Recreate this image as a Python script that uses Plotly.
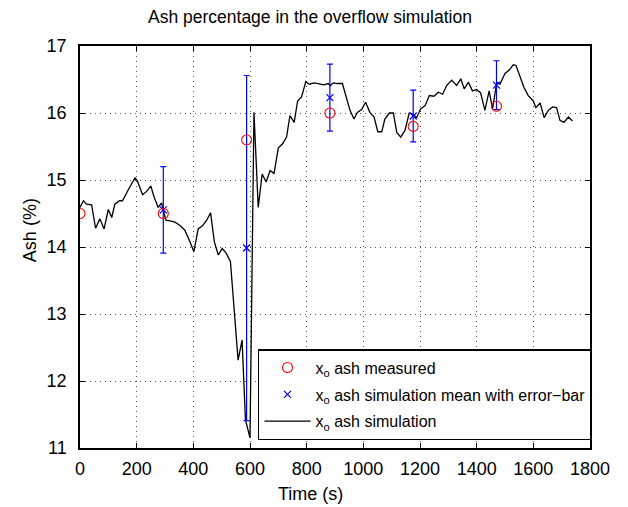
import plotly.graph_objects as go

# Simulated ash percentage in the overflow over time
time_s = [0, 12, 23, 41, 55, 70, 85, 100, 112, 123, 139, 150, 170, 194, 202, 221, 235, 250,
          262, 276, 288, 303, 318, 335, 353, 370, 388, 402, 417, 433, 447, 461, 474, 488,
          502, 517, 531, 544, 558, 572, 584, 600, 614, 629, 643, 657, 671, 685, 700, 715,
          729, 741, 756, 768, 782, 797, 809, 827, 845, 861, 876, 884, 894, 908, 926, 941,
          953, 967, 979, 994, 1008, 1023, 1038, 1051, 1065, 1076, 1092, 1106, 1118, 1132,
          1147, 1162, 1176, 1188, 1202, 1218, 1233, 1249, 1265, 1280, 1294, 1312, 1329,
          1344, 1356, 1371, 1385, 1400, 1414, 1429, 1444, 1456, 1471, 1482, 1500, 1515,
          1529, 1539, 1553, 1567, 1582, 1600, 1609, 1624, 1638, 1653, 1668, 1682, 1694,
          1708, 1724, 1738]
ash_sim = [14.59, 14.69, 14.64, 14.63, 14.28, 14.42, 14.27, 14.56, 14.44, 14.64, 14.69, 14.69,
           14.85, 15.03, 14.99, 14.78, 14.83, 14.91, 14.74, 14.59, 14.66, 14.40, 14.39, 14.37,
           14.32, 14.25, 14.08, 13.93, 14.27, 14.32, 14.40, 14.51, 14.08, 13.88, 13.98, 13.90,
           13.78, 13.06, 12.31, 12.61, 11.42, 11.15, 16.01, 14.59, 15.09, 14.97, 15.14, 15.10,
           15.48, 15.54, 15.64, 15.96, 15.86, 16.18, 16.24, 16.47, 16.43, 16.45, 16.43, 16.42,
           16.44, 16.41, 16.45, 16.44, 16.44, 16.21, 16.04, 15.91, 16.01, 16.05, 16.16, 16.01,
           15.94, 15.72, 15.72, 15.91, 16.00, 16.00, 15.71, 15.64, 15.74, 16.00, 15.98, 15.93,
           16.06, 16.11, 16.26, 16.25, 16.31, 16.28, 16.41, 16.49, 16.41, 16.51, 16.36, 16.46,
           16.33, 16.35, 16.30, 16.04, 16.33, 16.06, 16.46, 16.43, 16.59, 16.64, 16.72, 16.71,
           16.53, 16.38, 16.26, 16.18, 16.08, 16.15, 15.93, 16.04, 16.09, 16.08, 15.89, 15.86,
           15.94, 15.88]

# Measured samples
meas_time = [0, 294, 588, 882, 1176, 1470]
meas_ash = [14.5, 14.5, 15.6, 16.0, 15.8, 16.1]

# Simulation mean with error bars
mean_time = [294, 588, 882, 1176, 1470]
mean_ash = [14.555, 13.985, 16.23, 15.955, 16.415]
mean_err = [0.645, 2.575, 0.5, 0.385, 0.365]

FONT = "Liberation Sans, Arial, sans-serif"

fig = go.Figure()

fig.add_trace(go.Scatter(
    x=time_s, y=ash_sim, mode="lines",
    line=dict(color="black", width=1.3),
    name="x<sub>o</sub> ash simulation",
    legendgroup="c", legendrank=3,
))
fig.add_trace(go.Scatter(
    x=mean_time, y=mean_ash, mode="markers",
    marker=dict(symbol="x-thin-open", size=7, color="blue", line=dict(color="blue", width=1.2)),
    error_y=dict(type="data", array=mean_err, visible=True, color="blue", thickness=1.2, width=3),
    name="x<sub>o</sub> ash simulation mean with error\u2212bar",
    legendgroup="b", legendrank=2,
))
fig.add_trace(go.Scatter(
    x=meas_time, y=meas_ash, mode="markers",
    marker=dict(symbol="circle-open", size=10, color="red", line=dict(color="red", width=1.1)),
    name="x<sub>o</sub> ash measured",
    legendgroup="a", legendrank=1,
))

axis_common = dict(
    showline=True, linecolor="black", linewidth=1.5, mirror="allticks",
    ticks="inside", ticklen=5, tickcolor="black", tickwidth=1,
    showgrid=True, gridcolor="#555555", gridwidth=1, griddash="1px,4px",
    zeroline=False,
    tickfont=dict(family=FONT, size=18, color="black"),
)

fig.update_xaxes(range=[0, 1800], dtick=200, tick0=0, ticklabelstandoff=4, **axis_common)
fig.update_yaxes(range=[11, 17], dtick=1, tick0=11, ticklabelstandoff=8, **axis_common)

fig.update_layout(
    width=628, height=507,
    margin=dict(l=80, r=38, t=46, b=59),
    paper_bgcolor="white", plot_bgcolor="white",
    font=dict(family=FONT, color="black"),
    showlegend=True,
    legend=dict(
        x=0.349, y=0.246, xanchor="left", yanchor="top",
        bgcolor="white", bordercolor="black", borderwidth=1.5,
        font=dict(family=FONT, size=16, color="black"),
        tracegroupgap=3, itemwidth=46,
    ),
    annotations=[
        dict(text="Ash percentage in the overflow simulation", xref="paper", yref="paper",
             x=0.451, y=1.072, xanchor="center", yanchor="middle", showarrow=False,
             font=dict(family=FONT, size=17.5, color="black")),
        dict(text="Time (s)", xref="paper", yref="paper",
             x=0.451, y=-0.114, xanchor="center", yanchor="middle", showarrow=False,
             font=dict(family=FONT, size=18, color="black")),
        dict(text="Ash (%)", xref="paper", yref="paper", textangle=-90,
             x=-0.098, y=0.542, xanchor="center", yanchor="middle", showarrow=False,
             font=dict(family=FONT, size=18, color="black")),
    ],
)

fig.write_html("out.html")
